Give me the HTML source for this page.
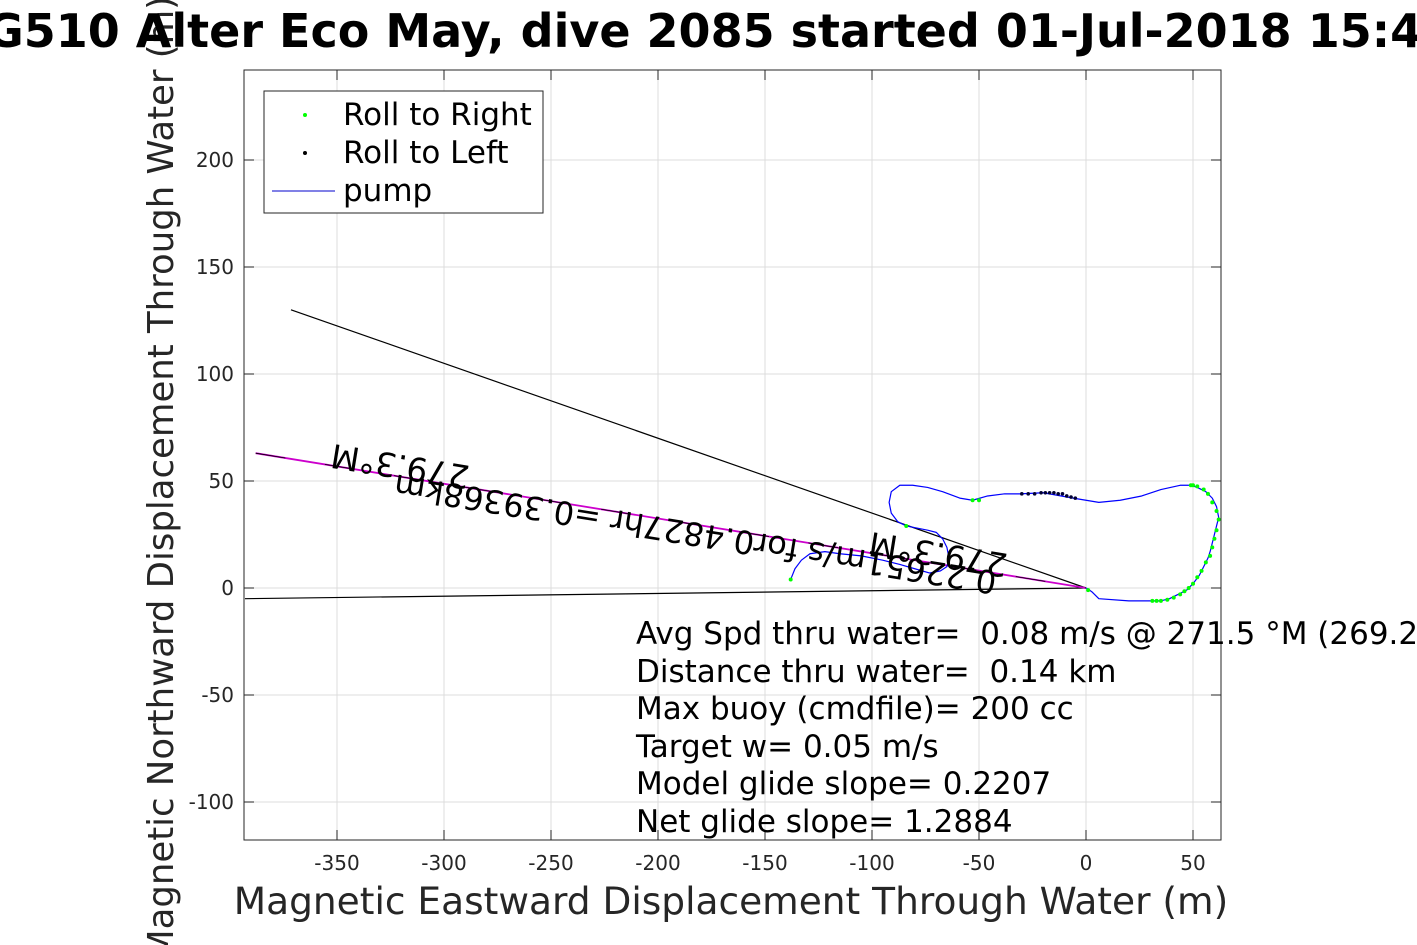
<!DOCTYPE html>
<html><head><meta charset="utf-8"><style>
html,body{margin:0;padding:0;background:#fff;overflow:hidden}
svg{display:block;font-family:"DejaVu Sans","Liberation Sans",sans-serif}
text{white-space:pre}
</style></head><body>
<svg id="chart" width="1417" height="945" viewBox="0 0 1417 945" xmlns="http://www.w3.org/2000/svg" overflow="hidden">
<rect width="1417" height="945" fill="#fff"/>
<g id="grid"></g>
<g id="ticks"></g>
<g id="marks"></g>
<rect x="244" y="70" width="977" height="770" fill="none" stroke="#262626" stroke-width="1"/>
<text transform="translate(173,478) rotate(-90)" font-size="35.5" text-anchor="middle" fill="#262626">Magnetic Northward Displacement Through Water (m)</text>
<text x="-14" y="47" font-size="46" font-weight="bold" fill="#000">G510 Alter Eco May, dive 2085 started 01-Jul-2018 15:46</text>
<text x="731" y="914" font-size="37.5" text-anchor="middle" fill="#262626">Magnetic Eastward Displacement Through Water (m)</text>
<g>
<rect x="264" y="91" width="279" height="122" fill="#fff" stroke="#262626" stroke-width="1"/>
<circle cx="305" cy="115" r="2" fill="#00ff00"/>
<text x="343" y="125" font-size="31" fill="#000">Roll to Right</text>
<circle cx="305" cy="153" r="2" fill="#000"/>
<text x="343" y="163" font-size="31" fill="#000">Roll to Left</text>
<line x1="272" y1="191" x2="335" y2="191" stroke="#0000cc" stroke-width="1"/>
<text x="343" y="201" font-size="31" fill="#000">pump</text>
</g>
<g font-size="31" fill="#000">
<text x="636" y="644">Avg Spd thru water=  0.08 m/s @ 271.5 °M (269.2 °T)</text>
<text x="636" y="682">Distance thru water=  0.14 km</text>
<text x="636" y="719">Max buoy (cmdfile)= 200 cc</text>
<text x="636" y="757">Target w= 0.05 m/s</text>
<text x="636" y="794">Model glide slope= 0.2207</text>
<text x="636" y="832">Net glide slope= 1.2884</text>
</g>
<g fill="#000">
<text transform="translate(402,455) rotate(189.2)" font-size="33" text-anchor="middle">279.3°M</text>
<text transform="translate(697,523) rotate(189.2)" font-size="32" text-anchor="middle">0.22651m/s for0.4827hr =0.39368km</text>
<text transform="translate(940,543) rotate(189.2)" font-size="33" text-anchor="middle">279.3°M</text>
</g>
</svg>
<script>
const xTicks = [-350,-300,-250,-200,-150,-100,-50,0,50];
const yTicks = [-100,-50,0,50,100,150,200];
const pathX = [-138,-136,-133,-129,-122,-115,-105,-95,-87,-80,-73,-68,-65,-64,-65,-67,-70,-74,-79,-84,-88,-91,-92,-91,-87,-81,-74,-67,-59,-53,-46,-38,-31,-20,-6,6,16,26,35,44,49,52,56,59,61,62,61,60,59,58,57,55,53,50,47,43,39,35,31,20,6,3,1,0];
const pathY = [4,9,13,16,17,16,15,13,11,9,7,8,10,14,19,23,26,27,28,29,31,35,40,45,48,48,47,45,42,41,43,44,44,44.5,42,40,41,43,46,48,48,47,45,42,38,33,29,25,21,17,14,10,6,2,-1,-3,-5,-6,-6,-6,-5,-2,-0.5,0];
const rightX = [-138,-84,-53,-50,1,31,33,35,38,41,44,46,48,50,52,54,56,58,59,60,61,62,61,59,57,55,52,50,49];
const rightY = [4,29,41,41,-1,-6,-6,-6,-5.5,-4.5,-3,-1.5,0,2,5,8,12,15,19,23,27,32,36,40,44,46,47.5,48,48];
const leftX = [-30,-27,-24,-21,-19,-17,-15,-13,-11,-9,-7,-5];
const leftY = [44,44,44,44.5,44.5,44.5,44.5,44,44,43,42.5,42];
const pumpLines = [[-371.5,130],[-393,-5]];
const currentVec = [-388,63];
const NS='http://www.w3.org/2000/svg';
const X0=1086, Y0=588, K=2.14;
function sx(v){return X0+v*K;}
function sy(v){return Y0-v*K;}
function mk(tag,attrs,parent){const e=document.createElementNS(NS,tag);for(const k in attrs)e.setAttribute(k,attrs[k]);parent.appendChild(e);return e;}
const grid=document.getElementById('grid'), ticks=document.getElementById('ticks'), marks=document.getElementById('marks');
xTicks.forEach(t=>{
  const x=sx(t);
  const g=mk('line',{x1:x,y1:70,x2:x,y2:840,stroke:'#dcdcdc','stroke-width':1},grid);
  
  
  mk('line',{x1:x,y1:840,x2:x,y2:830,stroke:'#262626'},ticks);
  mk('line',{x1:x,y1:70,x2:x,y2:80,stroke:'#262626'},ticks);
  const l=mk('text',{x:x,y:870,'font-size':20,'text-anchor':'middle',fill:'#262626'},ticks);
  l.textContent=t;
  
  
});
yTicks.forEach(t=>{
  const y=sy(t);
  const g=mk('line',{x1:244,y1:y,x2:1221,y2:y,stroke:'#dcdcdc','stroke-width':1},grid);
  
  
  mk('line',{x1:244,y1:y,x2:254,y2:y,stroke:'#262626'},ticks);
  mk('line',{x1:1221,y1:y,x2:1211,y2:y,stroke:'#262626'},ticks);
  const l=mk('text',{x:234,y:y+7,'font-size':20,'text-anchor':'end',fill:'#262626'},ticks);
  l.textContent=t;
  
  
});
pumpLines.forEach(p=>{
  const l=mk('line',{x1:sx(p[0]),y1:sy(p[1]),x2:sx(0),y2:sy(0),stroke:'#000','stroke-width':1.2},marks);
  
  
});
const cv=mk('line',{x1:sx(currentVec[0]),y1:sy(currentVec[1]),x2:sx(0),y2:sy(0),stroke:'#cc00cc','stroke-width':1.8},marks);


const cvb=mk('line',{x1:sx(currentVec[0]),y1:sy(currentVec[1]),x2:sx(0),y2:sy(0),stroke:'#000','stroke-width':0.8,'stroke-dasharray':'30 40'},marks);


const tp=mk('polyline',{points:pathX.map((x,i)=>sx(x)+','+sy(pathY[i])).join(' '),fill:'none',stroke:'#0000ff','stroke-width':1.2,'stroke-linejoin':'round'},marks);


rightX.forEach((x,i)=>{
  const c=mk('circle',{cx:sx(x),cy:sy(rightY[i]),r:2,fill:'#00ff00'},marks);
  
  
});
leftX.forEach((x,i)=>{
  const c=mk('circle',{cx:sx(x),cy:sy(leftY[i]),r:1.8,fill:'#000033'},marks);
  
  
});
</script>
</body></html>
